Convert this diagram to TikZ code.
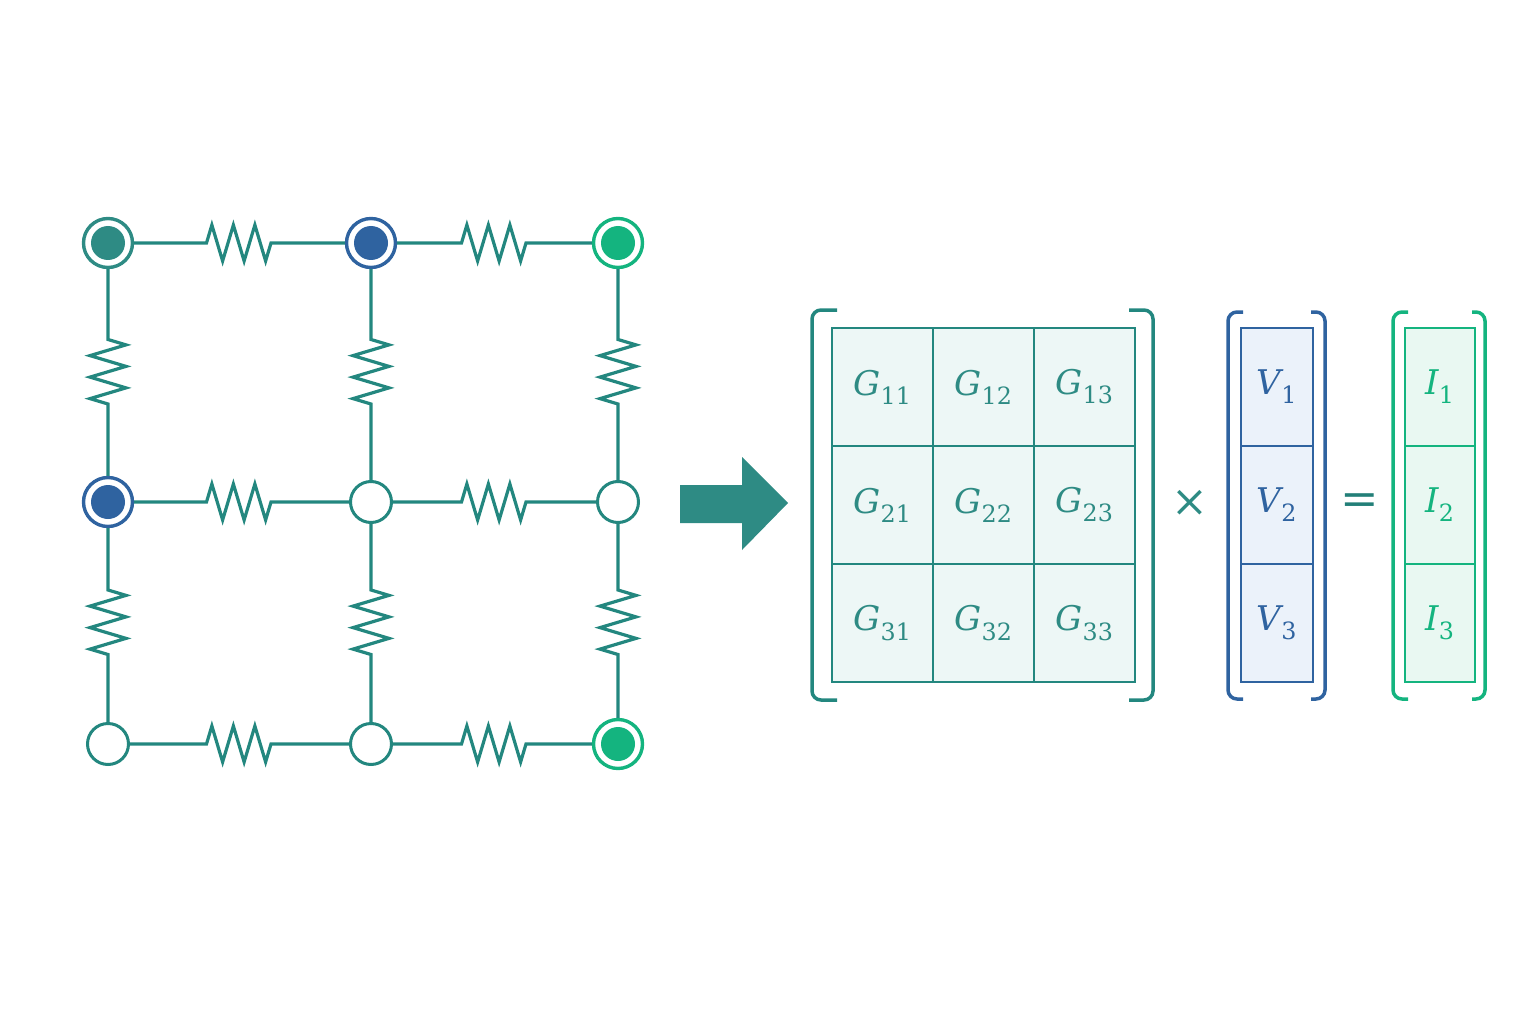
\documentclass[tikz,border=0pt]{standalone}
\usepackage{amsmath}
\usepackage{fontspec}
\newfontfamily\lblfont{DejaVu Serif}
\usetikzlibrary{calc,decorations.pathmorphing}
\definecolor{wireteal}{HTML}{23877F}
\definecolor{nodeteal}{HTML}{2E8B84}
\definecolor{nodeblue}{HTML}{2F63A0}
\definecolor{nodegreen}{HTML}{14B47F}
\definecolor{eqteal}{HTML}{237F78}
\definecolor{cellteal}{HTML}{EDF7F6}
\definecolor{cellblue}{HTML}{EBF2FA}
\definecolor{cellgreen}{HTML}{E9F8F2}
\begin{document}
\begin{tikzpicture}[x=1pt,y=-1pt,
    wire/.style={draw=wireteal,line width=3.2pt},
    res/.style={to path={-- ($(\tikztostart)!.5!(\tikztotarget)!33pt!(\tikztostart)$)
        decorate[decoration={zigzag,segment length=21.5pt,amplitude=18pt}]{-- ($(\tikztostart)!.5!(\tikztotarget)!33pt!(\tikztotarget)$)}
        -- (\tikztotarget)}},
    ndfix/.style={circle,draw=#1,line width=3.4pt,fill=white,minimum size=49pt,inner sep=0pt,
        path picture={\fill[#1] (path picture bounding box.center) circle (17pt);}},
    nd/.style={circle,draw=wireteal,line width=3pt,fill=white,minimum size=41pt,inner sep=0pt},
    gcell/.style={draw=wireteal,line width=2.4pt,fill=cellteal,minimum width=101pt,minimum height=118pt,inner sep=0pt,text=nodeteal,font=\lblfont\fontsize{34}{40}\selectfont},
    vcell/.style={gcell,draw=nodeblue,fill=cellblue,text=nodeblue,minimum width=72pt},
    icell/.style={gcell,draw=nodegreen,fill=cellgreen,text=nodegreen,minimum width=70pt},
    brk/.style={line width=3.5pt,rounded corners=9pt}]
  \useasboundingbox (0,0) rectangle (1536,1024);
  \node[ndfix=nodeteal] (n11) at (108,243) {};
  \node[ndfix=nodeblue] (n12) at (371,243) {};
  \node[ndfix=nodegreen] (n13) at (618,243) {};
  \node[ndfix=nodeblue] (n21) at (108,502) {};
  \node[nd] (n22) at (371,502) {};
  \node[nd] (n23) at (618,502) {};
  \node[nd] (n31) at (108,744) {};
  \node[nd] (n32) at (371,744) {};
  \node[ndfix=nodegreen] (n33) at (618,744) {};
  \draw[wire] (n11) to[res] (n12) (n12) to[res] (n13);
  \draw[wire] (n21) to[res] (n22) (n22) to[res] (n23);
  \draw[wire] (n31) to[res] (n32) (n32) to[res] (n33);
  \draw[wire] (n11) to[res] (n21) (n21) to[res] (n31);
  \draw[wire] (n12) to[res] (n22) (n22) to[res] (n32);
  \draw[wire] (n13) to[res] (n23) (n23) to[res] (n33);
  \fill[nodeteal] (680,485) -- (742,485) -- (742,457) -- (788,503) -- (742,550) -- (742,523) -- (680,523) -- cycle;
  \node[gcell] (g11) at (882.5,387) {$\textit{G}_{\text{11}}$};
  \node[gcell] (g12) at (983.5,387) {$\textit{G}_{\text{12}}$};
  \node[gcell] (g13) at (1084.5,387) {$\textit{G}_{\text{13}}$};
  \node[gcell] (g21) at (882.5,505) {$\textit{G}_{\text{21}}$};
  \node[gcell] (g22) at (983.5,505) {$\textit{G}_{\text{22}}$};
  \node[gcell] (g23) at (1084.5,505) {$\textit{G}_{\text{23}}$};
  \node[gcell] (g31) at (882.5,623) {$\textit{G}_{\text{31}}$};
  \node[gcell] (g32) at (983.5,623) {$\textit{G}_{\text{32}}$};
  \node[gcell] (g33) at (1084.5,623) {$\textit{G}_{\text{33}}$};
  \draw[brk,wireteal] (837,310) -- (812,310) -- (812,700) -- (837,700);
  \draw[brk,wireteal] (1129,310) -- (1153,310) -- (1153,700) -- (1129,700);
  \node[text=nodeteal,font=\lblfont\fontsize{44}{52}\selectfont] (times) at (1190,503) {×};
  \node[vcell] (v1) at (1277,387) {$\textit{V}_{\text{1}}$};
  \node[vcell] (v2) at (1277,505) {$\textit{V}_{\text{2}}$};
  \node[vcell] (v3) at (1277,623) {$\textit{V}_{\text{3}}$};
  \draw[brk,nodeblue] (1243,312) -- (1228,312) -- (1228,699) -- (1243,699);
  \draw[brk,nodeblue] (1311,312) -- (1325,312) -- (1325,699) -- (1311,699);
  \node[text=eqteal,font=\lblfont\fontsize{46}{52}\selectfont] (eq) at (1360,504) {=};
  \node[icell] (i1) at (1440,387) {$\textit{I}_{\text{1}}$};
  \node[icell] (i2) at (1440,505) {$\textit{I}_{\text{2}}$};
  \node[icell] (i3) at (1440,623) {$\textit{I}_{\text{3}}$};
  \draw[brk,nodegreen] (1408,312) -- (1393,312) -- (1393,699) -- (1408,699);
  \draw[brk,nodegreen] (1472,312) -- (1485,312) -- (1485,699) -- (1472,699);
\end{tikzpicture}
\end{document}
